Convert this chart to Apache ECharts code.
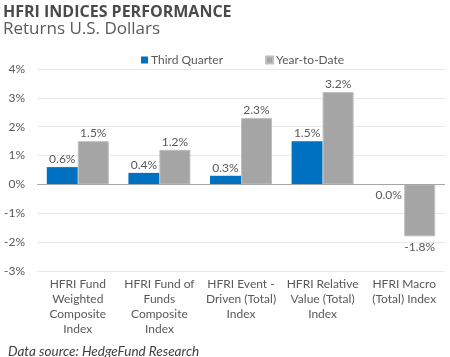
<!DOCTYPE html>
<html><head><meta charset="utf-8">
<script src="https://cdn.jsdelivr.net/npm/echarts@6/dist/echarts.min.js"></script>
<style>html,body{margin:0;padding:0;background:#fff}#c{width:450px;height:357px}</style>
</head><body><div id="c"></div>
<script>
const categories = [
  "HFRI Fund\nWeighted\nComposite\nIndex",
  "HFRI Fund of\nFunds\nComposite\nIndex",
  "HFRI Event -\nDriven (Total)\nIndex",
  "HFRI Relative\nValue (Total)\nIndex",
  "HFRI Macro\n(Total) Index"
];
const thirdQuarter = [0.6, 0.4, 0.3, 1.5, 0.0];
const yearToDate = [1.5, 1.2, 2.3, 3.2, -1.8];
const seriesNames = ["Third Quarter", "Year-to-Date"];
const yMin = -3, yMax = 4, yStep = 1;

const FONT = "Lato";
const HEAD = "Open Sans";
const TXT = "#595959";
function toData(arr){
  return arr.map(v => ({value: v, label: {position: v <= 0 ? 'bottom' : 'top', distance: v <= 0 ? 5 : 2}}));
}
const chart = echarts.init(document.getElementById('c'));
chart.setOption({
  animation: false,
  title: [
    {text: "HFRI INDICES PERFORMANCE", left: 3, top: 4, padding: 0, textStyle: {fontFamily: HEAD, fontSize: 16, fontWeight: 'bold', color: '#4a4a4a'}},
    {text: "Returns U.S. Dollars", left: 3, top: 21, padding: 0, textStyle: {fontFamily: HEAD, fontSize: 17, fontWeight: 'normal', color: '#5a5a5a'}},
    {text: "Data source: HedgeFund Research", left: 3, top: 340, textStyle: {fontFamily: FONT, fontSize: 13.5, fontWeight: 'normal', fontStyle: 'italic', color: '#404040'}}
  ],
  legend: {
    top: 49, left: 136, itemWidth: 7, itemHeight: 7, itemGap: 42, icon: 'rect',
    textStyle: {fontFamily: FONT, fontSize: 12, color: TXT, padding: [0,0,0,-2]},
    data: seriesNames
  },
  grid: {left: 37, right: 5, top: 69, bottom: 86, containLabel: false},
  xAxis: {
    type: 'category', data: categories,
    axisLine: {show: false, onZero: false}, axisTick: {show: false},
    axisLabel: {fontFamily: FONT, fontSize: 12, color: TXT, lineHeight: 15, margin: 6, interval: 0}
  },
  yAxis: {
    type: 'value', min: yMin, max: yMax, interval: yStep,
    axisLabel: {fontFamily: FONT, fontSize: 12, color: TXT, formatter: v => v + '%', margin: 12},
    axisLine: {show: false}, axisTick: {show: false},
    splitLine: {lineStyle: {color: '#E8E8E8', width: 1}}
  },
  series: [
    {name: seriesNames[0], type: 'bar', data: toData(thirdQuarter), barWidth: 31, barGap: '0%',
     itemStyle: {color: '#0070C0'},
     label: {show: true, fontFamily: FONT, fontSize: 12, color: TXT, formatter: p => p.value.toFixed(1) + '%'},
     markLine: {silent: true, symbol: 'none', label: {show: false}, lineStyle: {color: '#A6A6A6', type: 'solid', width: 1}, data: [{yAxis: 0}]}
    },
    {name: seriesNames[1], type: 'bar', data: toData(yearToDate), barWidth: 31,
     itemStyle: {color: '#A5A5A5', borderColor: '#BFBFBF', borderWidth: 1},
     label: {show: true, fontFamily: FONT, fontSize: 12, color: TXT, formatter: p => p.value.toFixed(1) + '%'}
    }
  ]
});
</script></body></html>
